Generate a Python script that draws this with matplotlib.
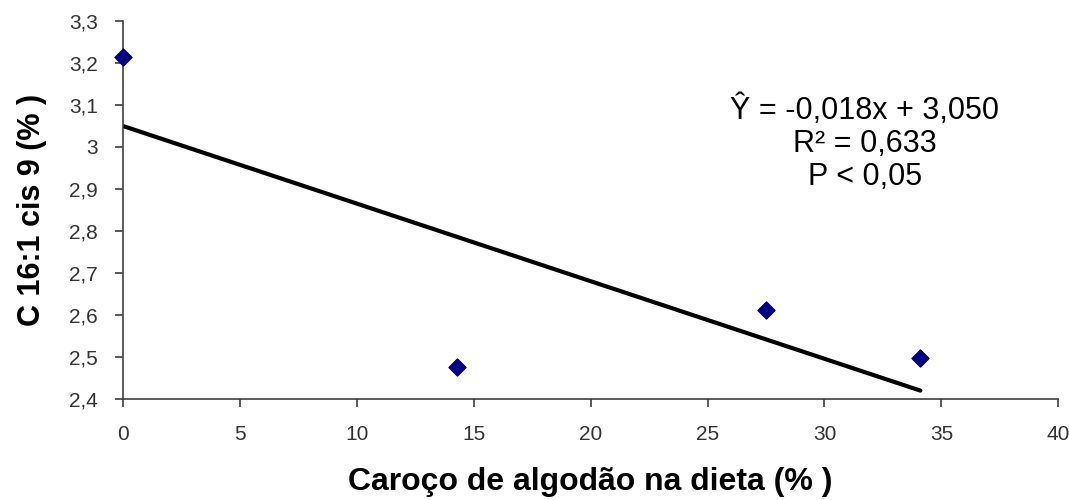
import matplotlib.pyplot as plt

plt.rcParams['font.family'] = ['Liberation Sans', 'DejaVu Sans']

# dados
caroco = [0, 14.3, 27.5, 34.1]
c161 = [3.215, 2.476, 2.612, 2.498]

# reta ajustada (extremos)
reta_x = [0, 34.1]
reta_y = [3.05, 2.42]

x_ticks = [0, 5, 10, 15, 20, 25, 30, 35, 40]
y_ticks = [2.4, 2.5, 2.6, 2.7, 2.8, 2.9, 3.0, 3.1, 3.2, 3.3]
y_labels = ['2,4', '2,5', '2,6', '2,7', '2,8', '2,9', '3', '3,1', '3,2', '3,3']

fig = plt.figure(figsize=(10.69, 5), dpi=100)
ax = fig.add_axes([0.115, 0.202, 0.875, 0.756])

ax.plot(reta_x, reta_y, color='black', lw=3, solid_capstyle='round', zorder=2)
ax.scatter(caroco, c161, marker='D', s=75, color='#000080', zorder=3, clip_on=False)

ax.set_xlim(0, 40)
ax.set_ylim(2.4, 3.3)
ax.set_xticks(x_ticks)
ax.set_xticklabels([str(t) for t in x_ticks])
ax.set_yticks(y_ticks)
ax.set_yticklabels(y_labels)

for s in ['top', 'right']:
    ax.spines[s].set_visible(False)
for s in ['left', 'bottom']:
    ax.spines[s].set_color('#404040')
    ax.spines[s].set_linewidth(1.2)
ax.tick_params(colors='#404040', labelcolor='#333333', labelsize=15, length=6, width=1.2)
ax.tick_params(axis='x', pad=13)
ax.tick_params(axis='y', pad=12)

ax.set_xlabel('Caroço de algodão na dieta (% )', fontsize=23, fontweight='bold', labelpad=16)
ax.set_ylabel('C 16:1 cis 9 (% )', fontsize=22, fontweight='bold', labelpad=16)

ax.text(0.793, 0.677, 'Ŷ = -0,018x + 3,050\nR² = 0,633\nP < 0,05',
        transform=ax.transAxes, ha='center', va='center', fontsize=22,
        linespacing=1.12)

fig.savefig('out.png', dpi=100)
